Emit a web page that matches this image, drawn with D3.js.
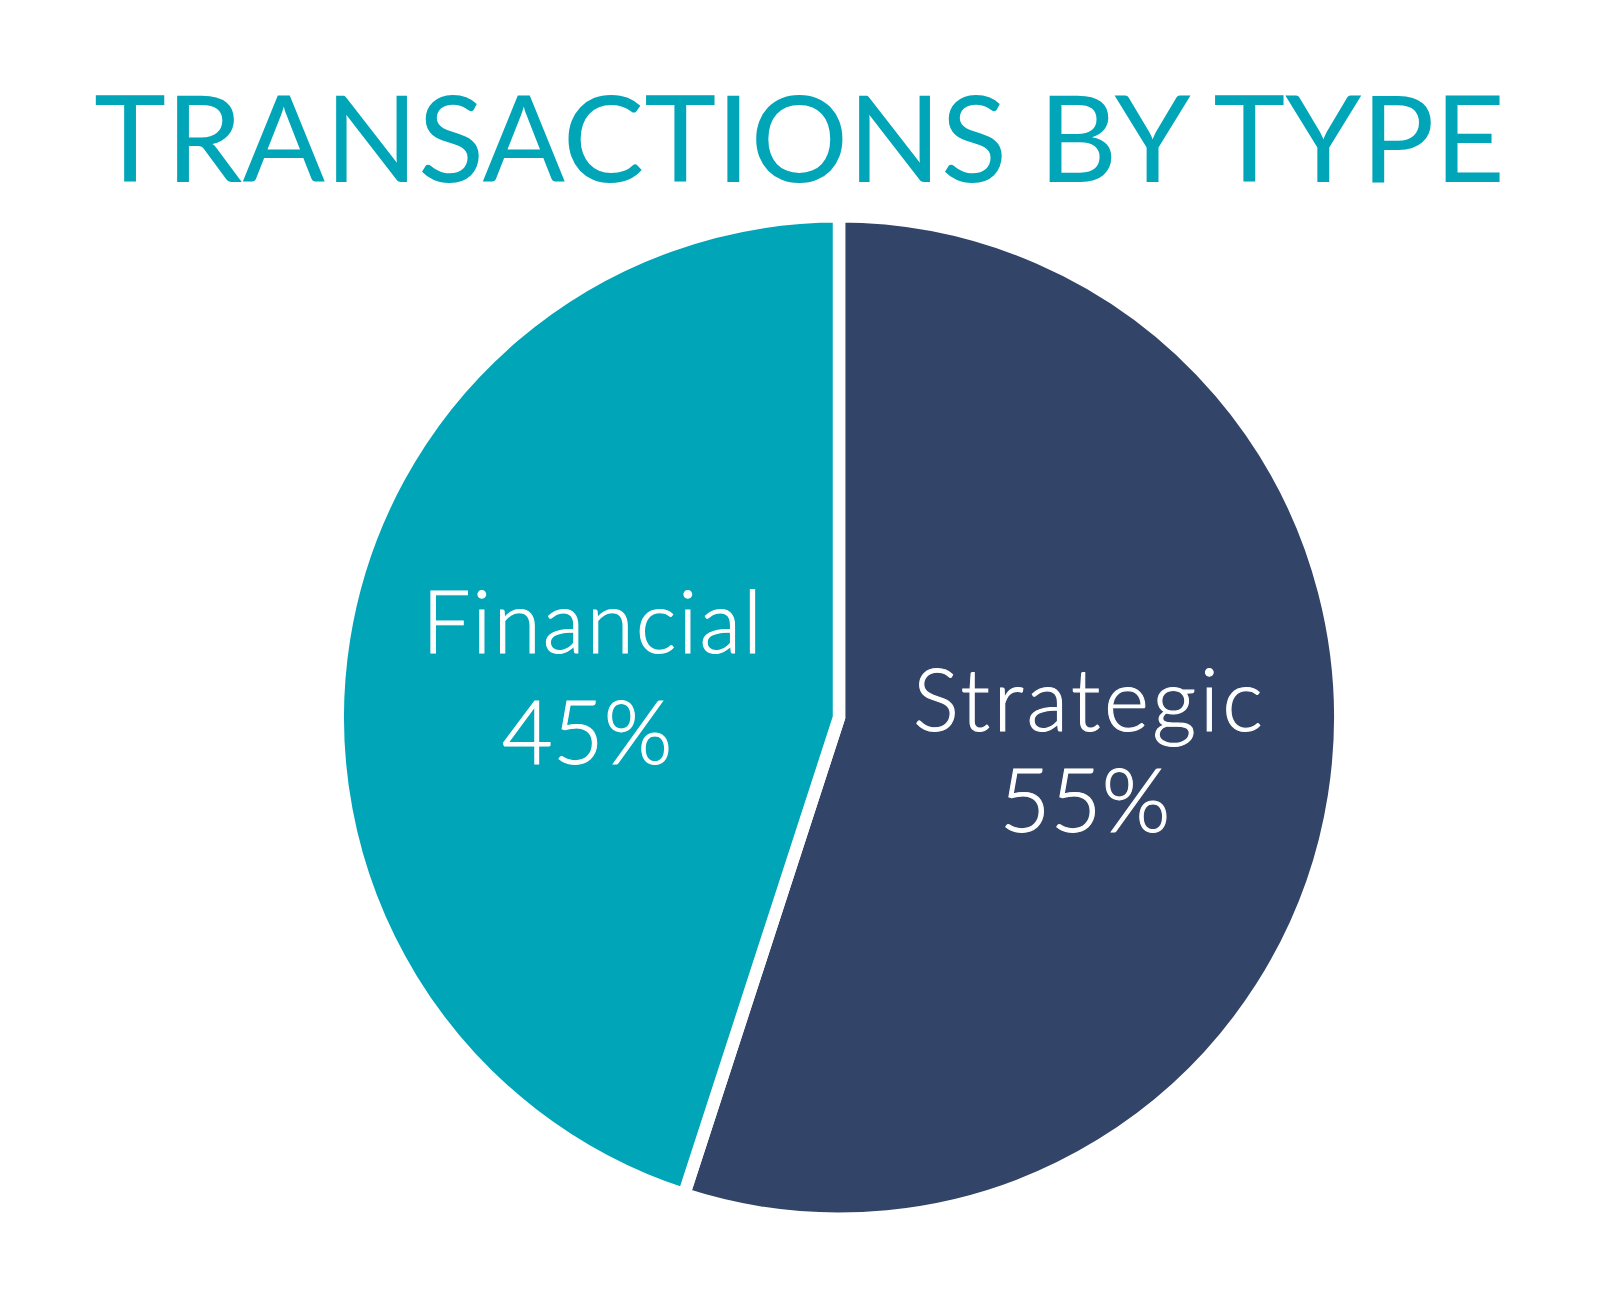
<!DOCTYPE html>
<html>
<head>
<meta charset="utf-8">
<script src="https://cdn.jsdelivr.net/npm/d3@7"></script>
<style>
  html, body { margin: 0; padding: 0; background: #ffffff; }
  svg { display: block; }
</style>
</head>
<body>
<svg id="chart" width="1600" height="1308"></svg>
<script>
// ---- data ----
const title = "TRANSACTIONS BY TYPE";
const categories = ["Strategic", "Financial"];
const values = [55, 45];
const valueLabels = ["55%", "45%"];
const colors = ["#324467", "#00A5B8"];

// ---- layout ----
const W = 1600, H = 1308;
const cx = 839, cy = 717.5;
const gap = 12.5;
const R = 495 + gap / 2;

const svg = d3.select("#chart");

svg.append("text")
  .attr("x", 94)
  .attr("y", 181.5)
  .attr("textLength", 1411)
  .attr("lengthAdjust", "spacingAndGlyphs")
  .attr("fill", "#00A5B8")
  .style("font-family", "Lato, 'Open Sans', sans-serif")
  .style("font-weight", 400)
  .style("font-size", "121px")
  .text(title);

const data = categories.map((c, i) => ({ name: c, value: values[i], label: valueLabels[i], color: colors[i] }));

const pie = d3.pie().sort(null).value(d => d.value);
const arcs = pie(data);
const arc = d3.arc().innerRadius(0).outerRadius(R);
const labelArc = d3.arc().innerRadius(252).outerRadius(252);

const g = svg.append("g").attr("transform", `translate(${cx},${cy})`);

g.selectAll("path.slice")
  .data(arcs)
  .join("path")
  .attr("class", "slice")
  .attr("d", arc)
  .attr("fill", d => d.data.color)
  .attr("stroke", "#ffffff")
  .attr("stroke-width", gap)
  .attr("stroke-linejoin", "miter");

const nameWidths = { Strategic: 350, Financial: 340 };
const nameDx = { Strategic: 0, Financial: 2 };
const nameDy = { Strategic: -26, Financial: -25 };
const pctDy = { Strategic: 75, Financial: 86 };

const lbl = g.selectAll("g.lbl")
  .data(arcs)
  .join("g")
  .attr("class", "lbl")
  .attr("transform", d => `translate(${labelArc.centroid(d)})`);

lbl.append("text")
  .attr("x", d => nameDx[d.data.name] - nameWidths[d.data.name] / 2)
  .attr("y", d => nameDy[d.data.name])
  .attr("textLength", d => nameWidths[d.data.name])
  .attr("lengthAdjust", "spacing")
  .attr("fill", "#ffffff")
  .attr("stroke", "#ffffff")
  .attr("stroke-width", 1.1)
  .style("font-family", "Lato, 'Open Sans', sans-serif")
  .style("font-weight", 300)
  .style("font-size", "86px")
  .text(d => d.data.name);

lbl.append("text")
  .attr("text-anchor", "middle")
  .attr("x", -3)
  .attr("y", d => pctDy[d.data.name])
  .attr("fill", "#ffffff")
  .attr("stroke", "#ffffff")
  .attr("stroke-width", 1.1)
  .style("font-family", "Lato, 'Open Sans', sans-serif")
  .style("font-weight", 300)
  .style("font-size", "88px")
  .text(d => d.data.label);
</script>
</body>
</html>
